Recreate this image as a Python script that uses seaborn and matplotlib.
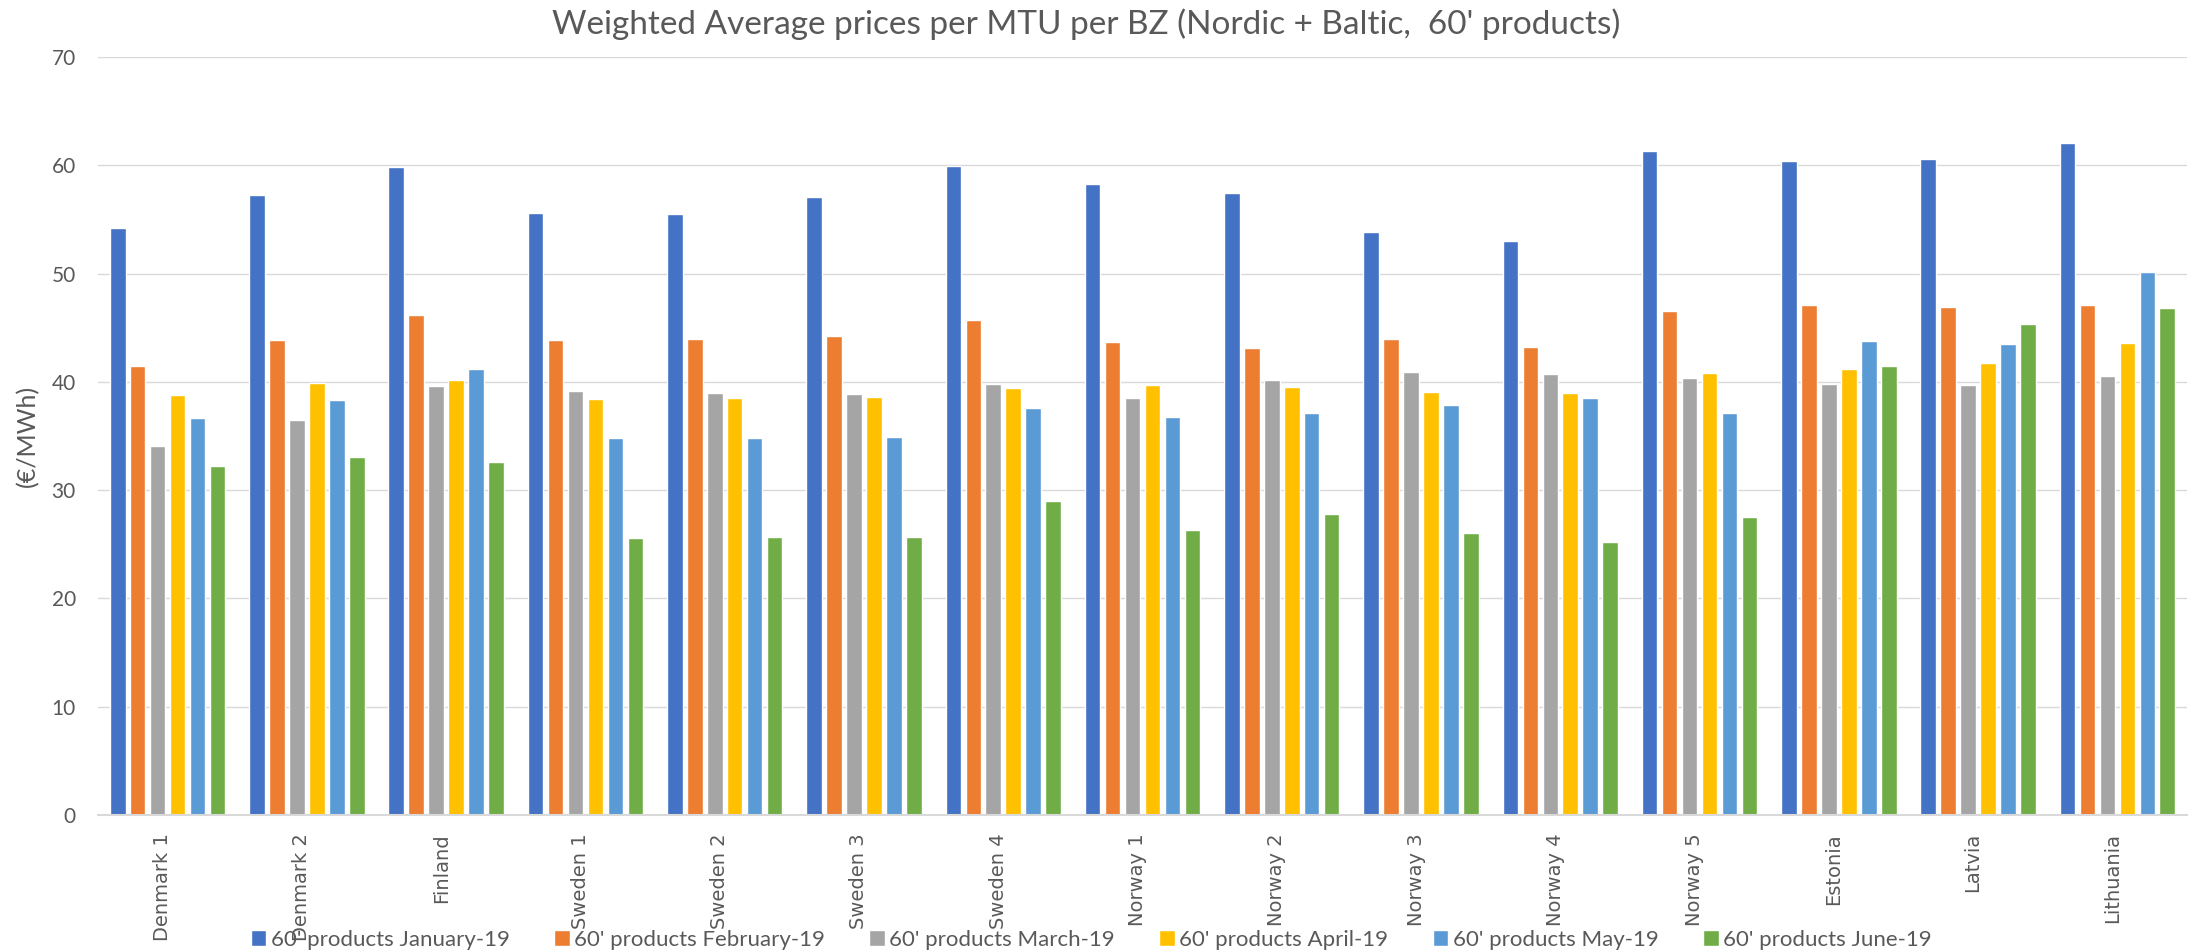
import seaborn as sns
import matplotlib.pyplot as plt
import matplotlib.transforms as mtransforms
import pandas as pd

# Bidding zones and monthly weighted average prices (EUR/MWh)
zones = ["Denmark 1", "Denmark 2", "Finland", "Sweden 1", "Sweden 2", "Sweden 3",
         "Sweden 4", "Norway 1", "Norway 2", "Norway 3", "Norway 4", "Norway 5",
         "Estonia", "Latvia", "Lithuania"]
months = ["60' products January-19", "60' products February-19", "60' products March-19",
          "60' products April-19", "60' products May-19", "60' products June-19"]

jan = [54.2, 57.3, 59.8, 55.6, 55.5, 57.1, 59.9, 58.3, 57.4, 53.8, 53.0, 61.3, 60.4, 60.6, 62.1]
feb = [41.5, 43.9, 46.2, 43.9, 44.0, 44.2, 45.7, 43.7, 43.1, 44.0, 43.2, 46.5, 47.1, 46.9, 47.1]
mar = [34.1, 36.5, 39.6, 39.2, 39.0, 38.9, 39.8, 38.5, 40.2, 40.9, 40.7, 40.4, 39.8, 39.7, 40.5]
apr = [38.8, 39.9, 40.2, 38.4, 38.5, 38.6, 39.4, 39.7, 39.5, 39.1, 39.0, 40.8, 41.2, 41.7, 43.6]
may = [36.7, 38.3, 41.2, 34.8, 34.8, 34.9, 37.6, 36.8, 37.1, 37.9, 38.5, 37.1, 43.8, 43.5, 50.1]
jun = [32.2, 33.1, 32.6, 25.6, 25.7, 25.7, 29.0, 26.3, 27.8, 26.0, 25.2, 27.5, 41.5, 45.3, 46.8]

colors = ["#4472C4", "#ED7D31", "#A5A5A5", "#FFC000", "#5B9BD5", "#70AD47"]

# long form table for seaborn
rows = []
for month, vals in zip(months, [jan, feb, mar, apr, may, jun]):
    for zone, v in zip(zones, vals):
        rows.append({"zone": zone, "month": month, "price": v})
df = pd.DataFrame(rows)

sns.set_style("white")
plt.rcParams['font.family'] = ['Lato', 'DejaVu Sans']
text_color = "#595959"

fig = plt.figure(figsize=(21.93, 9.52), dpi=100)
ax = fig.add_axes([98 / 2193, 1 - 815 / 952, 2089 / 2193, (815 - 57) / 952])

sns.barplot(data=df, x="zone", y="price", hue="month", order=zones, hue_order=months,
            palette=colors, saturation=1, width=0.86, errorbar=None, ax=ax)

# leave a small white gap between neighbouring bars
for p in ax.patches:
    w = p.get_width()
    if w > 0:
        p.set_x(p.get_x() + w * 0.11)
        p.set_width(w * 0.78)

ax.set_ylim(0, 70)
ax.set_xlim(-0.5, len(zones) - 0.5)
ax.set_yticks(range(0, 71, 10))
ax.yaxis.grid(True, color="#D9D9D9", linewidth=1.0)
ax.set_axisbelow(True)
for s in ["top", "right", "left"]:
    ax.spines[s].set_visible(False)
ax.spines["bottom"].set_color("#D9D9D9")
ax.spines["bottom"].set_linewidth(1.5)

ax.tick_params(axis="y", length=0, pad=16, labelsize=15, labelcolor=text_color)
ax.tick_params(axis="x", length=0, pad=13, labelcolor=text_color)
shift = mtransforms.ScaledTranslation(-5 / 100, 0, fig.dpi_scale_trans)
for lbl in ax.get_xticklabels():
    lbl.set_rotation(90)
    lbl.set_fontfamily("DejaVu Sans")
    lbl.set_fontsize(14)
    lbl.set_transform(lbl.get_transform() + shift)
ax.set_xlabel("")
ax.set_ylabel("(€/MWh)", fontsize=18, color=text_color)
ax.yaxis.set_label_coords(-0.028, 0.5)

fig.text(1086 / 2193, 1 - 24 / 952, "Weighted Average prices per MTU per BZ (Nordic + Baltic,  60' products)",
         ha="center", va="center", fontsize=24, color=text_color)

handles, labels = ax.get_legend_handles_labels()
ax.legend(handles, labels, ncol=6, loc="center", bbox_to_anchor=(0.4976, 1 - 940 / 952),
          bbox_transform=fig.transFigure, frameon=False, fontsize=16, labelcolor=text_color,
          handlelength=0.7, handleheight=0.7, handletextpad=0.2, columnspacing=2.0)

plt.savefig("out.png", dpi=100)
